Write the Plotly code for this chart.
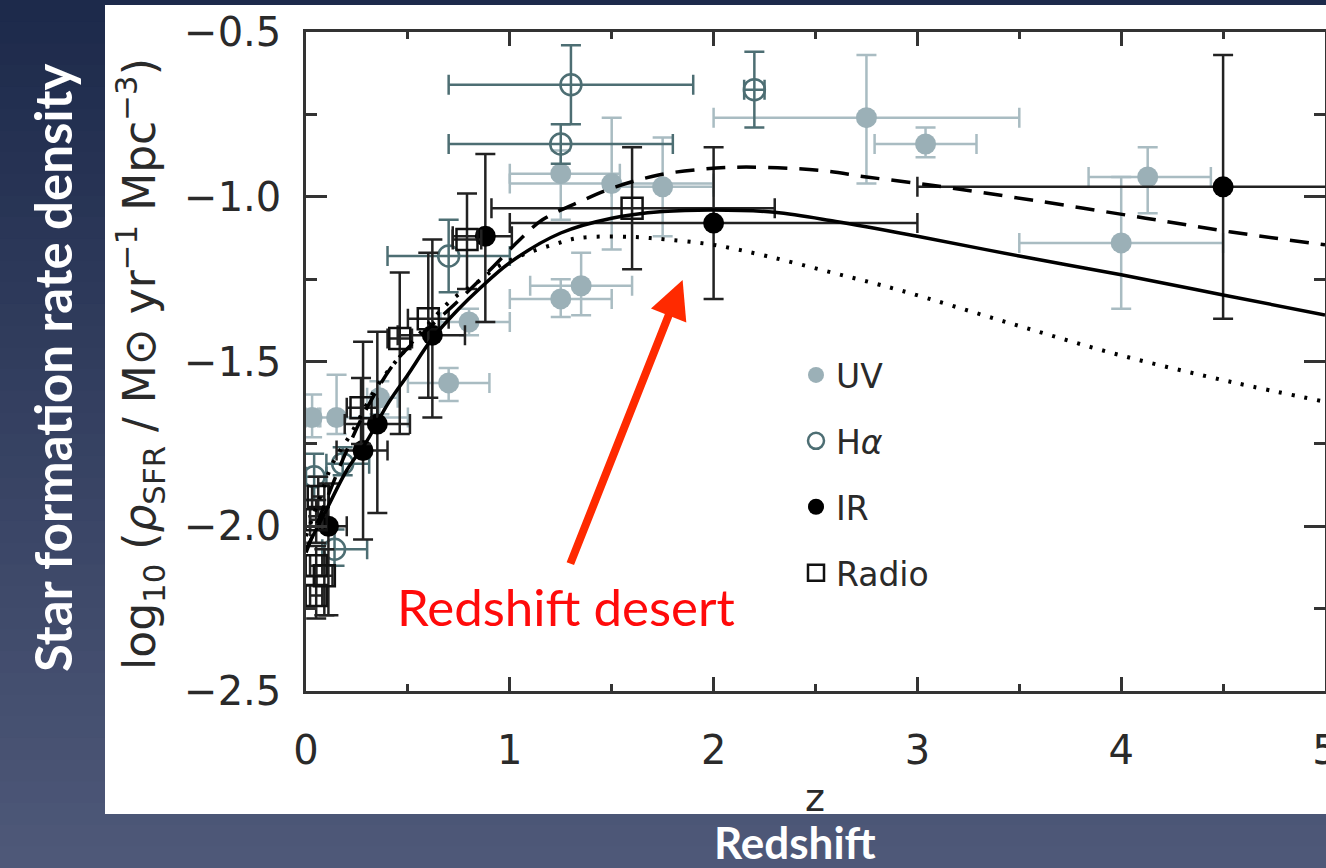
import plotly.graph_objects as go

# ---------------- data ----------------
# UV (filled light circles)
uv_z   = [2.75, 3.04, 4.13, 4.00, 1.25, 1.50, 1.75, 1.25, 1.35, 0.80, 0.70, 0.15, 0.36, 0.03]
uv_v   = [-0.76, -0.84, -0.94, -1.14, -0.93, -0.96, -0.97, -1.31, -1.27, -1.38, -1.565, -1.67, -1.61, -1.67]
uv_zlo = [2.00, 2.79, 3.84, 3.50, 1.00, 1.00, 1.50, 1.00, 1.10, 0.66, 0.50, 0.07, 0.30, 0.00]
uv_zhi = [3.50, 3.29, 4.44, 4.50, 1.54, 2.00, 2.00, 1.50, 1.60, 1.00, 0.90, 0.50, 0.45, 0.06]
uv_vlo = [-0.96, -0.88, -1.05, -1.34, -1.07, -1.16, -1.12, -1.365, -1.36, -1.42, -1.62, -1.72, -1.66, -1.73]
uv_vhi = [-0.57, -0.79, -0.85, -0.94, -0.86, -0.76, -0.82, -1.25, -1.17, -1.34, -1.52, -1.54, -1.56, -1.60]

# H-alpha (open circles)
ha_z   = [1.30, 1.25, 2.20, 0.70, 0.18, 0.04, 0.14]
ha_v   = [-0.66, -0.84, -0.675, -1.18, -1.81, -1.85, -2.07]
ha_zlo = [0.70, 0.70, 2.15, 0.40, 0.10, 0.00, 0.08]
ha_zhi = [1.90, 1.80, 2.25, 1.00, 0.31, 0.10, 0.30]
ha_vlo = [-0.78, -0.90, -0.79, -1.29, -1.845, -1.92, -2.12]
ha_vhi = [-0.54, -0.78, -0.56, -1.07, -1.76, -1.78, -2.01]

# IR (filled black circles)
ir_z   = [4.50, 2.00, 0.88, 0.62, 0.35, 0.28, 0.11]
ir_v   = [-0.97, -1.08, -1.12, -1.42, -1.69, -1.77, -2.00]
ir_zlo = [3.00, 1.00, 0.72, 0.45, 0.19, 0.15, 0.02]
ir_zhi = [6.00, 3.00, 1.01, 0.78, 0.51, 0.40, 0.20]
ir_vlo = [-1.37, -1.31, -1.38, -1.67, -1.96, -2.04, -2.27]
ir_vhi = [-0.57, -0.85, -0.87, -1.13, -1.41, -1.44, -1.87]

# Radio (open squares)
ra_z   = [1.60, 0.79, 0.60, 0.46, 0.27, 0.05, 0.06, 0.05, 0.09, 0.05]
ra_v   = [-1.035, -1.13, -1.37, -1.43, -1.64, -1.98, -1.91, -2.12, -2.15, -2.21]
ra_zlo = [0.91, 0.72, 0.50, 0.40, 0.20, 0.02, 0.03, 0.02, 0.05, 0.02]
ra_zhi = [2.30, 0.86, 0.70, 0.52, 0.35, 0.08, 0.09, 0.08, 0.13, 0.08]
ra_vlo = [-1.22, -1.28, -1.61, -1.72, -1.75, -2.05, -1.97, -2.18, -2.27, -2.28]
ra_vhi = [-0.85, -0.99, -1.17, -1.23, -1.55, -1.92, -1.85, -2.06, -2.07, -2.15]

# fitted curves
solid_z = [0, 0.1, 0.2, 0.3, 0.4, 0.5, 0.62, 0.75, 0.85, 1.0, 1.25, 1.5, 1.75, 2.0, 2.3, 2.6, 3.0, 3.5, 4.0, 4.5, 5.0]
solid_v = [-2.07, -1.95, -1.83, -1.74, -1.63, -1.54, -1.43, -1.34, -1.28, -1.20, -1.11, -1.065, -1.045, -1.04,
           -1.047, -1.075, -1.12, -1.18, -1.237, -1.298, -1.359]
dash_z = [0, 0.1, 0.2, 0.3, 0.44, 0.6, 0.74, 0.89, 1.05, 1.16, 1.34, 1.52, 1.73, 1.95, 2.16, 2.52, 2.75, 3.07,
          3.56, 4.12, 4.54, 5.0]
dash_v = [-2.08, -1.92, -1.77, -1.64, -1.50, -1.40, -1.32, -1.23, -1.13, -1.07, -1.016, -0.97, -0.934, -0.916,
          -0.91, -0.92, -0.94, -0.965, -1.01, -1.065, -1.107, -1.146]
dot_z = [0, 0.07, 0.13, 0.22, 0.35, 0.44, 0.58, 0.72, 0.84, 0.94, 1.06, 1.21, 1.34, 1.6, 1.77, 2.0, 2.26, 2.58,
         2.91, 3.45, 3.99, 4.54, 5.0]
dot_v = [-2.03, -1.91, -1.81, -1.72, -1.574, -1.50, -1.40, -1.31, -1.26, -1.213, -1.177, -1.146, -1.125, -1.122,
         -1.13, -1.146, -1.18, -1.23, -1.283, -1.383, -1.48, -1.562, -1.622]

x_ticks = [0, 1, 2, 3, 4, 5]
y_ticks = [-2.5, -2.0, -1.5, -1.0, -0.5]

# ---------------- figure ----------------
W, H = 1326, 868
L, R, T, B = 306, 1, 32, 177
PW, PH = W - L - R, H - T - B


def px_x(p):
    return (p - L) / PW


def px_y(p):
    return (H - B - p) / PH


def errs(v, lo, hi):
    return [h - c for c, h in zip(v, hi)], [c - l for c, l in zip(v, lo)]


fig = go.Figure()


def add_series(name, z, v, zlo, zhi, vlo, vhi, marker, ecol):
    xp, xm = errs(z, zlo, zhi)
    yp, ym = errs(v, vlo, vhi)
    fig.add_trace(go.Scatter(
        x=z, y=v, mode="markers", name=name, legendgroup=name,
        marker=marker,
        error_x=dict(type="data", symmetric=False, array=xp, arrayminus=xm,
                     color=ecol, thickness=2.5, width=10),
        error_y=dict(type="data", symmetric=False, array=yp, arrayminus=ym,
                     color=ecol, thickness=2.5, width=10),
    ))


add_series("UV", uv_z, uv_v, uv_zlo, uv_zhi, uv_vlo, uv_vhi,
           dict(symbol="circle", size=21, color="#9bb0b7", line=dict(width=0)), "#a9bcc2")
add_series("H<i>α</i>", ha_z, ha_v, ha_zlo, ha_zhi, ha_vlo, ha_vhi,
           dict(symbol="circle-open", size=21, color="#4d6e73", line=dict(width=2.5)), "#4d6e73")
add_series("IR", ir_z, ir_v, ir_zlo, ir_zhi, ir_vlo, ir_vhi,
           dict(symbol="circle", size=21, color="#000000", line=dict(width=0)), "#222222")
add_series("Radio", ra_z, ra_v, ra_zlo, ra_zhi, ra_vlo, ra_vhi,
           dict(symbol="square-open", size=21, color="#111111", line=dict(width=2.5)), "#222222")

fig.add_trace(go.Scatter(x=dot_z, y=dot_v, mode="lines", showlegend=False,
                         line=dict(color="#000", width=4, dash="3px,10px", shape="spline")))
fig.add_trace(go.Scatter(x=dash_z, y=dash_v, mode="lines", showlegend=False,
                         line=dict(color="#000", width=3.5, dash="19px,12px", shape="spline")))
fig.add_trace(go.Scatter(x=solid_z, y=solid_v, mode="lines", showlegend=False,
                         line=dict(color="#000", width=3.5, shape="spline")))

# background gradient bands (slide)
shapes = []
N = 40
top_c = (29, 42, 75)
bot_c = (78, 88, 120)
for i in range(N):
    f = i / (N - 1)
    c = tuple(int(round(top_c[k] + (bot_c[k] - top_c[k]) * f)) for k in range(3))
    y0 = i * H / N
    y1 = (i + 1) * H / N + 1
    shapes.append(dict(type="rect", xref="paper", yref="paper", layer="below",
                       x0=px_x(0), x1=px_x(W + 2), y0=px_y(y1), y1=px_y(y0),
                       fillcolor="rgb(%d,%d,%d)" % c, line=dict(width=0)))
# white panel
shapes.append(dict(type="rect", xref="paper", yref="paper", layer="below",
                   x0=px_x(105), x1=px_x(W + 2), y0=px_y(814), y1=px_y(5),
                   fillcolor="white", line=dict(width=0)))

tick_font = dict(family="DejaVu Sans", size=40, color="#2a2a2a")
axcol = "#333333"

annotations = [
    dict(text="log<sub>10</sub> (<i>ρ</i><sub>SFR</sub> / M⊙ yr<sup>−1</sup> Mpc<sup>−3</sup>)",
         xref="paper", yref="paper", x=px_x(140), y=px_y(364), textangle=-90,
         showarrow=False, font=dict(family="DejaVu Sans", size=44, color="#2a2a2a"),
         xanchor="center", yanchor="middle"),
    dict(text="z", xref="paper", yref="paper", x=px_x(815), y=px_y(798),
         showarrow=False, font=dict(family="DejaVu Sans", size=38, color="#2a2a2a"),
         xanchor="center", yanchor="middle"),
    dict(text="<b>Redshift</b>", xref="paper", yref="paper", x=px_x(795), y=px_y(842),
         showarrow=False, font=dict(family="Lato", size=44, color="white"),
         xanchor="center", yanchor="middle"),
    dict(text="<b>Star formation rate density</b>", xref="paper", yref="paper",
         x=px_x(52), y=px_y(368), textangle=-90,
         showarrow=False, font=dict(family="Lato", size=51, color="white"),
         xanchor="center", yanchor="middle"),
    dict(text="Redshift desert", xref="paper", yref="paper", x=px_x(566), y=px_y(606),
         showarrow=False, font=dict(family="Lato", size=51, color="#ff0a0a"),
         xanchor="center", yanchor="middle"),
    dict(text="", x=1.848, y=-1.253, ax=1.294, ay=-2.118, xref="x", yref="y",
         axref="x", ayref="y", showarrow=True, arrowhead=2, arrowsize=0.95,
         arrowwidth=8, arrowcolor="#ff2a00", standoff=0),
]

fig.update_layout(
    width=W, height=H,
    margin=dict(l=L, r=R, t=T, b=B, pad=0, autoexpand=False),
    paper_bgcolor="rgb(50,62,95)",
    plot_bgcolor="white",
    shapes=shapes,
    annotations=annotations,
    showlegend=True,
    legend=dict(x=px_x(796), y=px_y(347), xanchor="left", yanchor="top",
                bgcolor="rgba(0,0,0,0)", font=dict(family="DejaVu Sans", size=33, color="#2a2a2a"),
                tracegroupgap=20, itemsizing="trace", itemwidth=30),
    xaxis=dict(range=[0, 5], tickvals=x_ticks, showgrid=False, zeroline=False, automargin=False,
               showline=True, linewidth=2.5, linecolor=axcol, mirror="ticks",
               ticks="inside", ticklen=14, tickwidth=2.5, tickcolor=axcol,
               minor=dict(ticks="inside", ticklen=7, tickwidth=2.5, tickcolor=axcol, dtick=0.5),
               tickfont=tick_font, ticklabelstandoff=22, ticklabeloverflow="allow"),
    yaxis=dict(range=[-2.5, -0.5], tickvals=y_ticks, tickformat=".1f", showgrid=False, zeroline=False,
               automargin=False,
               showline=True, linewidth=2.5, linecolor=axcol, mirror="ticks",
               ticks="inside", ticklen=21, tickwidth=2.5, tickcolor=axcol,
               minor=dict(ticks="inside", ticklen=11, tickwidth=2.5, tickcolor=axcol, dtick=0.25),
               tickfont=tick_font, ticklabelstandoff=14),
)

fig.write_html("out.html")
